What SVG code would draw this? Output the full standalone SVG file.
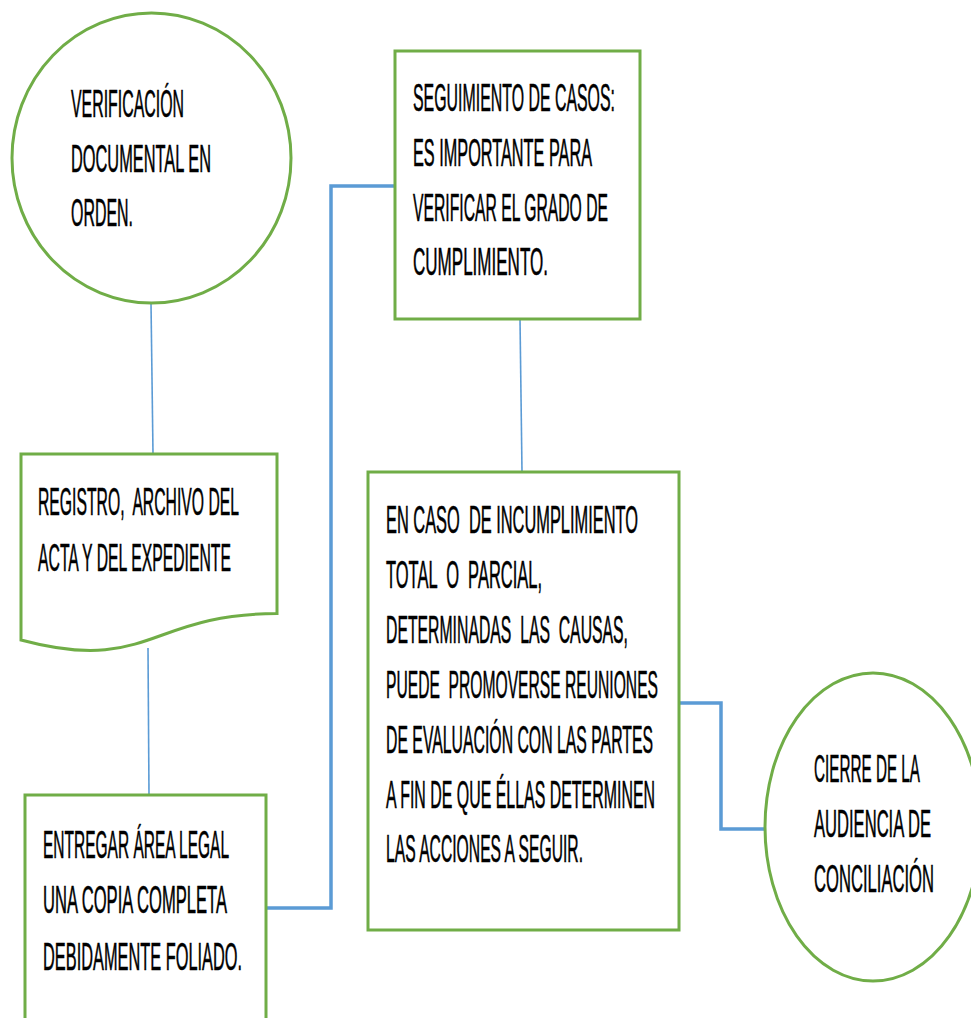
<svg xmlns="http://www.w3.org/2000/svg" width="971" height="1018" viewBox="0 0 971 1018">
  <style>
    .node { fill: #ffffff; stroke: #70AD47; stroke-width: 3; }
    .thin { fill: none; stroke: #5B9BD5; stroke-width: 1.6; }
    .thick { fill: none; stroke: #5B9BD5; stroke-width: 3.5; }
    /* tall, narrow caption lettering: glyphs are stretched vertically */
    text { font-family: "Liberation Sans", Arial, sans-serif; font-size: 20px; fill: #000000; stroke: #000000; stroke-width: 0.3; white-space: pre; }
  </style>
  <rect width="971" height="1018" fill="#ffffff"/>

  <!-- connectors -->
  <g id="connectors">
    <path class="thin" d="M151,303 L153,454"/>
    <path class="thin" d="M148,648 L149,795"/>
    <path class="thin" d="M520,319 L522,472"/>
    <path class="thick" d="M266,908 H331 V186 H395"/>
    <path class="thick" d="M679,703 H721 V829 H766"/>
  </g>

  <g id="verificacion">
    <ellipse class="node" cx="151.5" cy="158" rx="139.5" ry="145"/>
    <text transform="translate(71,117) scale(1,1.955)" textLength="113" lengthAdjust="spacingAndGlyphs">VERIFICACIÓN</text>
    <text transform="translate(71,172) scale(1,1.955)" textLength="140" lengthAdjust="spacingAndGlyphs">DOCUMENTAL EN</text>
    <text transform="translate(71,226) scale(1,1.955)" textLength="62" lengthAdjust="spacingAndGlyphs">ORDEN.</text>
  </g>

  <g id="registro">
    <path class="node" d="M21,454 H277 V613.6 C149,613.6 149,674.4 21,640 Z"/>
    <text transform="translate(38,515) scale(1,1.955)" textLength="201" lengthAdjust="spacingAndGlyphs" xml:space="preserve">REGISTRO,  ARCHIVO DEL</text>
    <text transform="translate(38,571) scale(1,1.955)" textLength="193" lengthAdjust="spacingAndGlyphs">ACTA Y DEL EXPEDIENTE</text>
  </g>

  <g id="entregar">
    <rect class="node" x="25" y="795" width="241" height="260"/>
    <text transform="translate(43,858) scale(1,1.955)" textLength="186" lengthAdjust="spacingAndGlyphs">ENTREGAR ÁREA LEGAL</text>
    <text transform="translate(43,913) scale(1,1.955)" textLength="184" lengthAdjust="spacingAndGlyphs">UNA COPIA COMPLETA</text>
    <text transform="translate(43,970) scale(1,1.955)" textLength="199" lengthAdjust="spacingAndGlyphs">DEBIDAMENTE FOLIADO.</text>
  </g>

  <g id="seguimiento">
    <rect class="node" x="395" y="51" width="245" height="268"/>
    <text transform="translate(413,111) scale(1,1.955)" textLength="202" lengthAdjust="spacingAndGlyphs">SEGUIMIENTO DE CASOS:</text>
    <text transform="translate(413,166) scale(1,1.955)" textLength="179" lengthAdjust="spacingAndGlyphs">ES IMPORTANTE PARA</text>
    <text transform="translate(413,221) scale(1,1.955)" textLength="195" lengthAdjust="spacingAndGlyphs">VERIFICAR EL GRADO DE</text>
    <text transform="translate(413,275) scale(1,1.955)" textLength="135" lengthAdjust="spacingAndGlyphs">CUMPLIMIENTO.</text>
  </g>

  <g id="incumplimiento">
    <rect class="node" x="368" y="472" width="311" height="458"/>
    <text transform="translate(386,533) scale(1,1.955)" textLength="252" lengthAdjust="spacingAndGlyphs" xml:space="preserve">EN CASO  DE INCUMPLIMIENTO</text>
    <text transform="translate(386,588) scale(1,1.955)" textLength="156" lengthAdjust="spacingAndGlyphs" xml:space="preserve">TOTAL  O  PARCIAL,</text>
    <text transform="translate(386,643) scale(1,1.955)" textLength="242" lengthAdjust="spacingAndGlyphs" xml:space="preserve">DETERMINADAS  LAS  CAUSAS,</text>
    <text transform="translate(386,698) scale(1,1.955)" textLength="272" lengthAdjust="spacingAndGlyphs" xml:space="preserve">PUEDE  PROMOVERSE REUNIONES</text>
    <text transform="translate(386,753) scale(1,1.955)" textLength="267" lengthAdjust="spacingAndGlyphs">DE EVALUACIÓN CON LAS PARTES</text>
    <text transform="translate(386,808) scale(1,1.955)" textLength="269" lengthAdjust="spacingAndGlyphs">A FIN DE QUE ÉLLAS DETERMINEN</text>
    <text transform="translate(386,862) scale(1,1.955)" textLength="197" lengthAdjust="spacingAndGlyphs">LAS ACCIONES A SEGUIR.</text>
  </g>

  <g id="cierre">
    <ellipse class="node" cx="873" cy="827" rx="108" ry="154"/>
    <text transform="translate(814,782) scale(1,1.955)" textLength="106" lengthAdjust="spacingAndGlyphs">CIERRE DE LA</text>
    <text transform="translate(814,837) scale(1,1.955)" textLength="117" lengthAdjust="spacingAndGlyphs">AUDIENCIA DE</text>
    <text transform="translate(814,892) scale(1,1.955)" textLength="120" lengthAdjust="spacingAndGlyphs">CONCILIACIÓN</text>
  </g>
</svg>
